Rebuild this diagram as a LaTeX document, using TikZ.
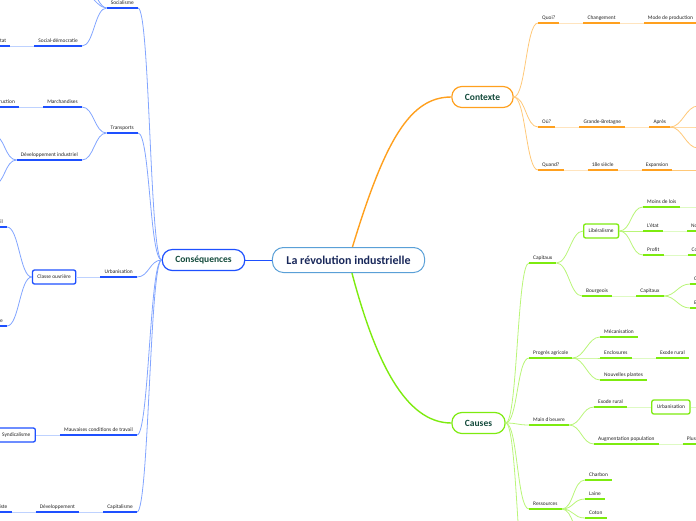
\documentclass[tikz,border=0pt]{standalone}
\usepackage{fontspec}
\setmainfont{Carlito}
\usetikzlibrary{positioning}
\definecolor{oStrong}{RGB}{255,160,30}
\definecolor{oLight}{RGB}{255,200,120}
\definecolor{oPale}{RGB}{255,228,190}
\definecolor{gStrong}{RGB}{125,235,15}
\definecolor{gLight}{RGB}{185,245,120}
\definecolor{gPale}{RGB}{222,250,195}
\definecolor{bStrong}{RGB}{30,80,255}
\definecolor{bLight}{RGB}{130,165,255}
\definecolor{bPale}{RGB}{190,210,255}
\definecolor{rootline}{RGB}{90,160,215}
\definecolor{rootnavy}{RGB}{25,40,90}
\definecolor{topictext}{RGB}{20,75,60}
\definecolor{txtgray}{RGB}{35,35,35}

\begin{document}
\begin{tikzpicture}[
  x=1pt, y=-1pt,
  root/.style={draw=rootline, line width=1pt, rounded corners=11pt, fill=white,
    font=\bfseries\fontsize{12}{14}\selectfont, text=rootnavy,
    inner xsep=14pt, minimum height=25pt},
  topic/.style={draw=#1, line width=1.2pt, rounded corners=10pt, fill=white,
    font=\bfseries\fontsize{9.5}{11}\selectfont, text=topictext,
    inner xsep=13pt, minimum height=21pt},
  lbl/.style={font=\fontsize{5.4}{6}\selectfont, text=txtgray,
    inner xsep=4pt, inner ysep=2pt, text height=4pt, text depth=1.2pt},
  box/.style={draw=#1, line width=1.3pt, rounded corners=2pt, fill=white,
    font=\fontsize{5.4}{6}\selectfont, text=txtgray,
    inner xsep=5pt, minimum height=14pt},
  brR/.style={to path={.. controls ([xshift=12pt]\tikztostart) and ([xshift=-12pt]\tikztotarget) .. (\tikztotarget)}},
  brL/.style={to path={.. controls ([xshift=-12pt]\tikztostart) and ([xshift=12pt]\tikztotarget) .. (\tikztotarget)}},
  ulO/.style={draw=oStrong, line width=2pt},
  ulG/.style={draw=gStrong, line width=2pt},
  ulB/.style={draw=bStrong, line width=2pt},
  stO/.style={draw=oLight, line width=0.8pt},
  stG/.style={draw=gLight, line width=0.8pt},
  stB/.style={draw=bLight, line width=0.8pt},
  paO/.style={draw=oPale, line width=1pt},
  paG/.style={draw=gPale, line width=1pt},
  paB/.style={draw=bPale, line width=1pt},
]
\useasboundingbox (0,0) rectangle (696,520);
\clip (0,0) rectangle (696,520);

% centre and main topics
\node[root] (root) at (348.5,260) {La révolution industrielle};
\node[topic=oStrong] (ctx) at (482.5,97) {Contexte};
\node[topic=gStrong] (cau) at (478.5,423) {Causes};
\node[topic=bStrong] (csq) at (203.5,260) {Conséquences};
\draw[oStrong, line width=1.4pt] (root) .. controls (385,140) and (410,97) .. (ctx);
\draw[gStrong, line width=1.4pt] (root) .. controls (375,360) and (405,423) .. (cau);
\draw[bStrong, line width=1pt] (root) -- (csq);

% Contexte
\node[lbl, anchor=south west] (quoi) at (538,23) {Quoi?};
\node[lbl, right=24pt of quoi] (chang) {Changement};
\node[lbl, right=24pt of chang] (mode) {Mode de production};
\node[lbl, anchor=south west] (ou) at (538,127) {Où?};
\node[lbl, right=24pt of ou] (gb) {Grande-Bretagne};
\node[lbl, right=24pt of gb] (apres) {Après};
\node[lbl, anchor=south west] (quand) at (538,170) {Quand?};
\node[lbl, right=24pt of quand] (siecle) {18e siècle};
\node[lbl, right=24pt of siecle] (expan) {Expansion};
\coordinate (apresA) at (698,106);
\coordinate (apresB) at (698,127);
\coordinate (apresC) at (698,148);
\coordinate (expanA) at (698,170);
\foreach \n in {quoi,ou,quand}
  \draw[stO] (ctx.east) to[brR] (\n.south west);
\foreach \c in {apresA,apresB,apresC}
  \draw[stO] (apres.south east) to[brR] (\c);
\draw[paO] (quoi.south east) -- (chang.south west) (chang.south east) -- (mode.south west);
\draw[paO] (ou.south east) -- (gb.south west) (gb.south east) -- (apres.south west);
\draw[paO] (quand.south east) -- (siecle.south west) (siecle.south east) -- (expan.south west);
\draw[stO] (expan.south east) -- (expanA);
\foreach \n in {quoi,chang,mode,ou,gb,apres,quand,siecle,expan}
  \draw[ulO] (\n.south west) -- (\n.south east);

% Causes
\node[lbl, anchor=south west] (capx) at (529,263) {Capitaux};
\node[box=gStrong, anchor=west] (lib) at (583,231) {Libéralisme};
\node[lbl, anchor=south west] (moins) at (643,207) {Moins de lois};
\node[lbl, anchor=south west] (etat) at (643,231) {L'état};
\node[lbl, right=24pt of etat] (nonint) {Non-intervention};
\node[lbl, anchor=south west] (profit) at (643,255) {Profit};
\node[lbl, right=24pt of profit] (conc) {Concurrence};
\coordinate (moinsA) at (698,207);
\node[lbl, anchor=south west] (bourg) at (582,296) {Bourgeois};
\node[lbl, right=24pt of bourg] (capxB) {Capitaux};
\node[lbl, anchor=south west] (credit) at (690,284) {Crédit};
\node[lbl, anchor=south west] (entr) at (690,308) {Entreprises};
\node[lbl, anchor=south west] (prog) at (529,358) {Progrès agricole};
\node[lbl, anchor=south west] (meca) at (600,337) {Mécanisation};
\node[lbl, anchor=south west] (encl) at (600,358) {Enclosures};
\node[lbl, right=24pt of encl] (exodeA) {Exode rural};
\node[lbl, anchor=south west] (nouv) at (600,380) {Nouvelles plantes};
\node[lbl, anchor=south west] (mdo) at (529,425) {Main d'oeuvre};
\node[lbl, anchor=south west] (exodeB) at (594,407) {Exode rural};
\node[box=gStrong, right=24pt of exodeB.south east] (urbR) {Urbanisation};
\coordinate (urbA) at (698,407);
\node[lbl, anchor=south west] (aug) at (594,444) {Augmentation population};
\node[lbl, right=24pt of aug] (plus) {Plus de consommateurs};
\node[lbl, anchor=south west] (ress) at (529,509) {Ressources};
\node[lbl, anchor=south west] (charb) at (585,480) {Charbon};
\node[lbl, anchor=south west] (laine) at (585,499) {Laine};
\node[lbl, anchor=south west] (coton) at (585,518) {Coton};
\coordinate (ressA) at (585,537);
\coordinate (cauA) at (529,600);
\foreach \n in {capx,prog,mdo,ress}
  \draw[stG] (cau.east) to[brR] (\n.south west);
\draw[stG] (cau.east) to[brR] (cauA);
\draw[stG] (capx.south east) to[brR] (lib.west);
\draw[stG] (capx.south east) to[brR] (bourg.south west);
\foreach \n in {moins,etat,profit}
  \draw[stG] (lib.east) to[brR] (\n.south west);
\foreach \n in {credit,entr}
  \draw[stG] (capxB.south east) to[brR] (\n.south west);
\foreach \n in {meca,encl,nouv}
  \draw[stG] (prog.south east) to[brR] (\n.south west);
\foreach \n in {exodeB,aug}
  \draw[stG] (mdo.south east) to[brR] (\n.south west);
\foreach \n in {charb,laine,coton}
  \draw[stG] (ress.south east) to[brR] (\n.south west);
\draw[stG] (ress.south east) to[brR] (ressA);
\draw[paG] (moins.south east) -- (moinsA);
\draw[paG] (etat.south east) -- (nonint.south west) (profit.south east) -- (conc.south west);
\draw[paG] (bourg.south east) -- (capxB.south west) (encl.south east) -- (exodeA.south west);
\draw[paG] (exodeB.south east) -- (urbR.west) (urbR.east) -- (urbA);
\draw[paG] (aug.south east) -- (plus.south west);
\foreach \n in {capx,moins,etat,nonint,profit,conc,bourg,capxB,credit,entr,prog,meca,encl,exodeA,nouv,mdo,exodeB,aug,plus,ress,charb,laine,coton}
  \draw[ulG] (\n.south west) -- (\n.south east);

% Consequences
\node[lbl, anchor=south east] (soc) at (138,8) {Socialisme};
\node[lbl, anchor=south east] (sdem) at (82,46) {Social-démocratie};
\node[lbl, left=24pt of sdem] (etatL) {Rôle de l'État};
\coordinate (socA) at (70,-22);
\coordinate (socB) at (70,-50);
\node[lbl, anchor=south east] (transp) at (138,133) {Transports};
\node[lbl, anchor=south east] (march) at (82,107) {Marchandises};
\node[lbl, left=24pt of march] (constr) {Construction};
\node[lbl, anchor=south east] (devind) at (82,160) {Développement industriel};
\coordinate (devA) at (-7,135);
\coordinate (devB) at (-7,185);
\node[lbl, anchor=south east] (urbL) at (137,277) {Urbanisation};
\node[box=bStrong, left=24pt of urbL.south west] (classe) {Classe ouvrière};
\node[lbl, anchor=south east] (travail) at (7,227) {Travail};
\node[lbl, anchor=south east] (misere) at (7,326) {Misère};
\node[lbl, anchor=south east] (mauv) at (137,435) {Mauvaises conditions de travail};
\node[box=bStrong, left=24pt of mauv.south west] (synd) {Syndicalisme};
\node[lbl, anchor=south east] (capl) at (137,512) {Capitalisme};
\node[lbl, left=24pt of capl] (dev) {Développement};
\node[lbl, left=24pt of dev] (colon) {Expansion colonialiste};
\foreach \n in {soc,transp,urbL,mauv,capl}
  \draw[stB] (csq.west) to[brL] (\n.south east);
\draw[stB] (soc.south west) to[brL] (sdem.south east);
\foreach \c in {socA,socB}
  \draw[stB] (soc.south west) to[brL] (\c);
\foreach \n in {march,devind}
  \draw[stB] (transp.south west) to[brL] (\n.south east);
\foreach \c in {devA,devB}
  \draw[stB] (devind.south west) to[brL] (\c);
\foreach \n in {travail,misere}
  \draw[stB] (classe.west) to[brL] (\n.south east);
\draw[paB] (sdem.south west) -- (etatL.south east) (march.south west) -- (constr.south east);
\draw[paB] (urbL.south west) -- (classe.east) (mauv.south west) -- (synd.east);
\draw[paB] (capl.south west) -- (dev.south east) (dev.south west) -- (colon.south east);
\foreach \n in {soc,sdem,etatL,transp,march,constr,devind,urbL,travail,misere,mauv,capl,dev,colon}
  \draw[ulB] (\n.south west) -- (\n.south east);
\end{tikzpicture}
\end{document}
